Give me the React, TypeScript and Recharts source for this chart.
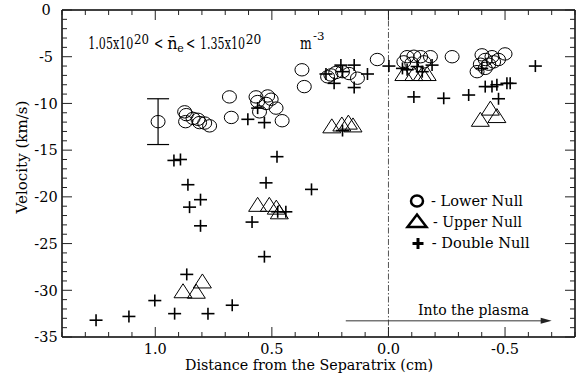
import React from 'react';
import { ScatterChart, Scatter, XAxis, YAxis, ReferenceLine, ErrorBar } from 'recharts';

// ---- data ----
const lowerNullX = [0.874, 0.867, 0.870, 0.838, 0.817, 0.810, 0.788, 0.767, 0.682, 0.674, 0.568, 0.561, 0.518, 0.503, 0.553, 0.525, 0.482, 0.456, 0.371, 0.361, 0.261, 0.247, 0.226, 0.197, 0.169, 0.133, 0.048, -0.066, -0.080, -0.100, -0.109, -0.138, -0.152, -0.180, -0.273, -0.380, -0.394, -0.401, -0.415, -0.415, -0.430, -0.444, -0.451, -0.472, -0.500];
const lowerNullY = [-10.9, -11.2, -11.95, -11.6, -11.7, -12.05, -12.1, -12.4, -9.3, -11.5, -9.3, -9.8, -9.2, -9.55, -10.9, -10.0, -10.5, -11.85, -6.4, -8.2, -7.15, -6.95, -6.7, -6.6, -6.8, -7.3, -5.3, -5.55, -5.0, -5.7, -4.95, -5.0, -5.55, -5.0, -5.0, -6.6, -5.8, -4.8, -5.3, -6.25, -5.8, -5.0, -5.55, -5.3, -4.7];

const errorPointX = [0.988];
const errorPointY = [-11.95];
const errorPointErr = [2.45];

const upperNullX = [0.881, 0.824, 0.798, 0.561, 0.511, 0.481, 0.468, 0.243, 0.200, 0.172, 0.152, -0.066, -0.109, -0.145, -0.166, -0.394, -0.437, -0.465];
const upperNullY = [-30.05, -30.1, -29.0, -20.8, -20.8, -21.1, -21.6, -12.4, -12.2, -12.0, -12.3, -6.8, -6.8, -6.8, -6.8, -11.7, -10.5, -11.3];

const doubleNullX = [1.254, 1.113, 1.002, 0.917, 0.865, 0.774, 0.670, 0.920, 0.892, 0.860, 0.806, 0.853, 0.806, 0.478, 0.525, 0.330, 0.585, 0.475, 0.440, 0.532, 0.603, 0.532, 0.561, 0.268, 0.233, 0.204, 0.147, 0.090, 0.147, 0.197, 0.197, -0.002, -0.060, -0.080, -0.123, -0.145, -0.187, -0.109, -0.237, -0.344, -0.415, -0.444, -0.465, -0.508, -0.522, -0.472, -0.630, -0.400];
const doubleNullY = [-33.2, -32.8, -31.1, -32.5, -28.3, -32.5, -31.6, -16.1, -16.0, -18.7, -20.3, -21.1, -23.1, -15.7, -18.5, -19.2, -22.7, -21.6, -21.6, -26.4, -11.7, -12.05, -10.5, -6.85, -7.85, -5.9, -5.9, -6.85, -8.3, -6.6, -12.9, -6.0, -6.25, -6.4, -6.05, -6.6, -5.9, -9.3, -9.45, -9.1, -8.2, -8.2, -8.0, -7.85, -7.85, -9.5, -6.0, -6.25];

const xTicks = [1.4, 1.3, 1.2, 1.1, 1.0, 0.9, 0.8, 0.7, 0.6, 0.5, 0.4, 0.3, 0.2, 0.1, 0.0, -0.1, -0.2, -0.3, -0.4, -0.5, -0.6, -0.7, -0.8];
const xMajor = [1.0, 0.5, 0.0, -0.5];
const yTicks = [0, -1, -2, -3, -4, -5, -6, -7, -8, -9, -10, -11, -12, -13, -14, -15, -16, -17, -18, -19, -20, -21, -22, -23, -24, -25, -26, -27, -28, -29, -30, -31, -32, -33, -34, -35];
const yMajor = [0, -5, -10, -15, -20, -25, -30, -35];

const arrowStart = { x: 0.183, y: -33.27 };
const arrowEnd = { x: -0.7, y: -33.27 };

const zip = (xs: number[], ys: number[]) => xs.map((x, i) => ({ x, y: ys[i] }));
const lowerData = zip(lowerNullX, lowerNullY);
const upperData = zip(upperNullX, upperNullY);
const doubleData = zip(doubleNullX, doubleNullY);
const errData = errorPointX.map((x, i) => ({ x, y: errorPointY[i], err: errorPointErr[i] }));

const SERIF = 'DejaVu Serif';
const TS: React.CSSProperties = { fontFamily: SERIF };
const isMajor = (v: number, list: number[]) => list.some((m) => Math.abs(m - v) < 1e-6);

const T = (p: any) => (
  <text
    x={p.x}
    y={p.y}
    fontSize={p.size}
    textAnchor={p.anchor || 'start'}
    textLength={p.len}
    lengthAdjust={p.len ? 'spacingAndGlyphs' : undefined}
    transform={p.rotate ? `rotate(${p.rotate} ${p.x} ${p.y})` : undefined}
    style={TS}
    fill="#000"
  >
    {p.children}
  </text>
);

const BottomTick = (p: any) => {
  const v = p.payload.value;
  const major = isMajor(v, xMajor);
  return (
    <g>
      <line x1={p.x} x2={p.x} y1={p.y} y2={p.y - (major ? 10 : 5)} stroke="#222" strokeWidth={1} />
      {major && (
        <text x={p.x} y={p.y + 17} textAnchor="middle" style={TS} fontSize={14.5} fill="#000">
          {(Math.abs(v) < 1e-9 ? 0 : v).toFixed(1)}
        </text>
      )}
    </g>
  );
};
const TopTick = (p: any) => {
  const major = isMajor(p.payload.value, xMajor);
  return <line x1={p.x} x2={p.x} y1={p.y} y2={p.y + (major ? 10 : 5)} stroke="#222" strokeWidth={1} />;
};
const LeftTick = (p: any) => {
  const v = p.payload.value;
  const major = isMajor(v, yMajor);
  return (
    <g>
      <line x1={p.x} x2={p.x + (major ? 10 : 5)} y1={p.y} y2={p.y} stroke="#222" strokeWidth={1} />
      {major && (
        <text x={p.x - 16} y={p.y + 5.3} textAnchor="middle" style={TS} fontSize={14.5} fill="#000">
          {String(v)}
        </text>
      )}
    </g>
  );
};
const RightTick = (p: any) => {
  const major = isMajor(p.payload.value, yMajor);
  return <line x1={p.x} x2={p.x - (major ? 10 : 5)} y1={p.y} y2={p.y} stroke="#222" strokeWidth={1} />;
};

const CircleShape = (p: any) => (
  <ellipse cx={p.cx} cy={p.cy} rx={7} ry={6.2} fill="none" stroke="#000" strokeWidth={1} />
);
const TriangleShape = (p: any) => (
  <polygon
    points={`${p.cx - 9},${p.cy + 7} ${p.cx + 9},${p.cy + 7} ${p.cx},${p.cy - 7}`}
    fill="none"
    stroke="#000"
    strokeWidth={1}
  />
);
const CrossShape = (p: any) => (
  <g stroke="#000" strokeWidth={1.6}>
    <line x1={p.cx - 6.5} x2={p.cx + 6.5} y1={p.cy} y2={p.cy} />
    <line x1={p.cx} x2={p.cx} y1={p.cy - 6} y2={p.cy + 6} />
  </g>
);

const ArrowShape = (p: any) => {
  const { x1, y1, x2, y2 } = p;
  return (
    <g>
      <line x1={x1} y1={y1} x2={x2 - 8} y2={y2} stroke="#333" strokeWidth={1} />
      <polygon points={`${x2},${y2} ${x2 - 11},${y2 - 3} ${x2 - 11},${y2 + 3}`} fill="#222" />
    </g>
  );
};

export default function App() {
  return (
    <div style={{ position: 'absolute', left: 0, top: 0, width: 584, height: 378, background: '#fff' }}>
      <ScatterChart width={584} height={378} margin={{ top: 0, right: 0, bottom: 0, left: 0 }}>
        <XAxis xAxisId="b" dataKey="x" type="number" orientation="bottom" domain={[-0.8, 1.4]} allowDataOverflow reversed ticks={xTicks} interval={0} height={41} tickSize={0} tickMargin={0} tickLine={false} tick={<BottomTick />} axisLine={{ stroke: '#000', strokeWidth: 1.5 }} />
        <XAxis xAxisId="t" dataKey="x" type="number" orientation="top" domain={[-0.8, 1.4]} allowDataOverflow reversed ticks={xTicks} interval={0} height={10} tickSize={0} tickMargin={0} tickLine={false} tick={<TopTick />} axisLine={{ stroke: '#000', strokeWidth: 1.5 }} />
        <YAxis yAxisId="l" dataKey="y" type="number" orientation="left" domain={[-35, 0]} allowDataOverflow ticks={yTicks} interval={0} width={62} tickSize={0} tickMargin={0} tickLine={false} tick={<LeftTick />} axisLine={{ stroke: '#000', strokeWidth: 1.5 }} />
        <YAxis yAxisId="r" dataKey="y" type="number" orientation="right" domain={[-35, 0]} allowDataOverflow ticks={yTicks} interval={0} width={9} tickSize={0} tickMargin={0} tickLine={false} tick={<RightTick />} axisLine={{ stroke: '#000', strokeWidth: 1.5 }} />
        <ReferenceLine xAxisId="b" yAxisId="l" x={0} stroke="#555" strokeWidth={1} strokeDasharray="6 2 1.5 2" />
        <ReferenceLine xAxisId="b" yAxisId="l" segment={[arrowStart, arrowEnd]} shape={ArrowShape} ifOverflow="visible" />
        <Scatter xAxisId="b" yAxisId="l" data={lowerData} shape={CircleShape} isAnimationActive={false} />
        <Scatter xAxisId="b" yAxisId="l" data={errData} shape={CircleShape} isAnimationActive={false}>
          <ErrorBar dataKey="err" direction="y" width={11} stroke="#000" strokeWidth={1.2} />
        </Scatter>
        <Scatter xAxisId="b" yAxisId="l" data={upperData} shape={TriangleShape} isAnimationActive={false} />
        <Scatter xAxisId="b" yAxisId="l" data={doubleData} shape={CrossShape} isAnimationActive={false} />
      </ScatterChart>
      <svg width={584} height={378} style={{ position: 'absolute', left: 0, top: 0, pointerEvents: 'none' }}>
        {/* density annotation */}
        <T x={88.3} y={49} size={16} len={45}>1.05x10</T>
        <T x={134} y={43.5} size={13.5} len={15}>20</T>
        <T x={154} y={49} size={16} len={9.3}>{'<'}</T>
        <T x={167.3} y={49} size={16}>{'n\u0304'}</T>
        <T x={177.3} y={52} size={11}>e</T>
        <T x={186} y={49} size={16} len={9.3}>{'<'}</T>
        <T x={200} y={49} size={16} len={45}>1.35x10</T>
        <T x={245.7} y={43.5} size={13.5} len={15.5}>20</T>
        <T x={300} y={49} size={16} len={11.7}>m</T>
        <T x={313} y={39.5} size={11} len={11.5}>-3</T>

        <T x={21.5} y={157} size={15.5} anchor="middle" len={113} rotate={-90}>
          <tspan dy={5.5}>Velocity (km/s)</tspan>
        </T>
        <T x={309} y={369.5} size={15.5} anchor="middle" len={248}>Distance from the Separatrix (cm)</T>
        <T x={473.5} y={315} size={15} anchor="middle" len={111}>Into the plasma</T>

        <ellipse cx={417} cy={201} rx={6} ry={5.5} fill="none" stroke="#000" strokeWidth={2.5} />
        <T x={431} y={206} size={15} len={92}>- Lower Null</T>
        <polygon points="407.5,227 426.5,227 417,214.5" fill="none" stroke="#000" strokeWidth={2.5} strokeLinejoin="miter" />
        <T x={433} y={226.7} size={15} len={89}>- Upper Null</T>
        <g stroke="#000" strokeWidth={3}>
          <line x1={412.5} x2={423.5} y1={243.5} y2={243.5} />
          <line x1={418} x2={418} y1={238} y2={249} />
        </g>
        <T x={431.7} y={248.3} size={15} len={98}>- Double Null</T>
      </svg>
    </div>
  );
}
